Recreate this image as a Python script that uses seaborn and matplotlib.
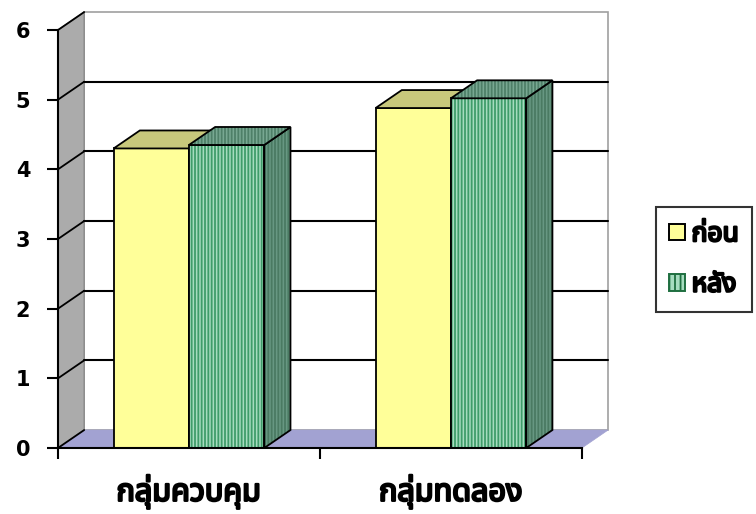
import numpy as np
import pandas as pd
import matplotlib
matplotlib.use("Agg")
import matplotlib.pyplot as plt
import matplotlib.patheffects as pe
from matplotlib.patches import Polygon, Rectangle, Patch
import seaborn as sns

groups = ["กลุ่มควบคุม", "กลุ่มทดลอง"]
series = ["ก่อน", "หลัง"]
before = [4.30, 4.88]
after = [4.35, 5.02]
y_ticks = [0, 1, 2, 3, 4, 5, 6]

sns.set_style("white")
plt.rcParams["font.family"] = ["Noto Sans Thai", "DejaVu Sans"]
plt.rcParams["hatch.linewidth"] = 1.3
plt.rcParams["text.color"] = "black"
plt.rcParams["xtick.labelcolor"] = "black"
plt.rcParams["ytick.labelcolor"] = "black"

df = pd.DataFrame({
    "group": groups * 2,
    "series": [series[0]] * len(groups) + [series[1]] * len(groups),
    "value": before + after,
})

# 3D depth offset in data units
DX, DY = 0.1, 0.258
# fake bold for the Thai font (regular weight only)
BOLD = [pe.withStroke(linewidth=1.7, foreground="black")]

fig = plt.figure(figsize=(7.56, 5.14), dpi=100)
ax = fig.add_axes([0.0767, 0.1284, 0.693, 0.8132])

front = {"ก่อน": "#ffff99", "หลัง": "#a6dcbf"}
sns.barplot(data=df, x="group", y="value", hue="series", order=groups,
            hue_order=series, palette=front, width=0.575, saturation=1,
            errorbar=None, legend=False, ax=ax)
bars = list(ax.patches)

ax.set_xlim(-0.5, 1.5)
ax.set_ylim(0, 6)
x0, x1 = ax.get_xlim()
ytop = y_ticks[-1]


def face(pts, fc, z, hatch=None, hc=None, lw=1.3, ec="black"):
    ax.add_patch(Polygon(pts, closed=True, facecolor=fc, edgecolor=hc or fc,
                         hatch=hatch, linewidth=0, zorder=z, clip_on=False))
    ax.add_patch(Polygon(pts, closed=True, fill=False, edgecolor=ec,
                         linewidth=lw, zorder=z + 0.01, clip_on=False))


# walls and floor
face([(x0 + DX, DY), (x1 + DX, DY), (x1 + DX, ytop + DY), (x0 + DX, ytop + DY)],
     "white", 0.1, ec="#a0a0a0", lw=1.2)
face([(x0, 0), (x0 + DX, DY), (x0 + DX, ytop + DY), (x0, ytop)],
     "#ababab", 0.2, ec="#8a8a8a", lw=1.0)
face([(x0, 0), (x1, 0), (x1 + DX, DY), (x0 + DX, DY)],
     "#a2a2d2", 0.3, ec="#a2a2d2", lw=0.5)

for y in y_ticks[1:-1]:
    ax.plot([x0 + DX, x1 + DX], [y + DY, y + DY], color="black", lw=1.5,
            zorder=0.5, clip_on=False)
for y in y_ticks:
    ax.plot([x0, x0 + DX], [y, y + DY], color="black", lw=1.3,
            zorder=0.6, clip_on=False)

# bars with top and side faces
tops = {"ก่อน": "#c8c87c", "หลัง": "#78a892"}
sides = {"ก่อน": "#b0b060", "หลัง": "#679782"}
for i, bar in enumerate(bars):
    s = series[i // len(groups)]
    x, w, h = bar.get_x(), bar.get_width(), bar.get_height()
    z = 3 + 3 * (i // len(groups))
    bar.set_zorder(z)
    bar.set_clip_on(False)
    bar.set_linewidth(0)
    if s == series[1]:
        bar.set_edgecolor("#3f9c6a")
        bar.set_hatch("|||||")
        hatch, top_hc, side_hc = "|||||", "#4e8068", "#4a7a62"
    else:
        hatch, top_hc, side_hc = None, None, None
    ax.add_patch(Rectangle((x, 0), w, h, fill=False, edgecolor="black",
                           linewidth=1.3, zorder=z + 0.05, clip_on=False))
    face([(x + w, 0), (x + w + DX, DY), (x + w + DX, h + DY), (x + w, h)],
         sides[s], z + 0.5, hatch=hatch, hc=side_hc)
    face([(x, h), (x + w, h), (x + w + DX, h + DY), (x + DX, h + DY)],
         tops[s], z + 1, hatch=hatch, hc=top_hc)

# axes styling
sns.despine(ax=ax, top=True, right=True)
for sp in ["left", "bottom"]:
    ax.spines[sp].set_color("black")
    ax.spines[sp].set_linewidth(1.5)
    ax.spines[sp].set_zorder(10)
ax.set_facecolor("none")
ax.set_xlabel("")
ax.set_ylabel("")
ax.set_yticks(y_ticks)
ax.set_yticklabels([str(t) for t in y_ticks], fontsize=15, fontweight="bold",
                   family="DejaVu Sans", color="black")
ax.tick_params(axis="y", direction="out", length=8, width=1.5, pad=12,
               left=True, color="black")
ax.set_xticks(range(len(groups)))
ax.set_xticklabels(groups, fontsize=22, color="black")
for lab in ax.get_xticklabels():
    lab.set_path_effects(BOLD)
ax.set_xticks([x0, 0.5, x1], minor=True)
ax.tick_params(axis="x", which="major", length=0, pad=20)
ax.tick_params(axis="x", which="minor", direction="out", length=8, width=1.5,
               bottom=True, color="black")

handles = [
    Patch(facecolor=front[series[0]], edgecolor="black", linewidth=1.4),
    Patch(facecolor=front[series[1]], edgecolor="#1f6f40", hatch="|||",
          linewidth=1.4),
]
leg = fig.legend(handles, series, loc="upper left",
                 bbox_to_anchor=(656 / 756, 1 - 207 / 514), frameon=True,
                 fancybox=False, edgecolor="black", handlelength=0.6,
                 handleheight=0.6, handletextpad=0.25, labelspacing=0.85,
                 borderpad=0.5, borderaxespad=0, prop={"size": 19})
leg.get_frame().set_linewidth(1.5)
for t in leg.get_texts():
    t.set_path_effects(BOLD)
    t.set_color("black")

fig.savefig("out.png", dpi=100)
